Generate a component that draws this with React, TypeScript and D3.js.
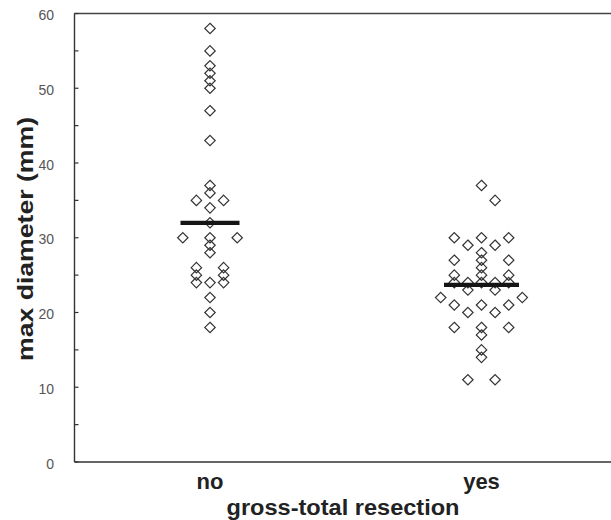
import React from "react";
import * as d3 from "d3";

const categories = ["no", "yes"];

// group "no": values and jitter slot (column index)
const noValues = [58, 55, 53, 52, 51, 50, 47, 43, 37, 36, 35, 35, 34, 32, 30, 30, 30, 29, 28, 26, 25, 24, 26, 25, 24, 24, 22, 20, 18];
const noSlots = [0, 0, 0, 0, 0, 0, 0, 0, 0, 0, -1, 1, 0, 0, -2, 0, 2, 0, 0, -1, -1, -1, 1, 1, 1, 0, 0, 0, 0];

// group "yes"
const yesValues = [37, 35, 30, 30, 30, 29, 29, 28, 27, 26, 25, 24, 27, 27, 25, 25, 24, 24, 24, 24, 23, 23, 22, 22, 21, 21, 21, 20, 20, 18, 18, 18, 17, 15, 14, 11, 11];
const yesSlots = [0, 1, -2, 0, 2, -1, 1, 0, 0, 0, 0, 0, -2, 2, -2, 2, -2, 2, -1, 1, -1, 1, -3, 3, -2, 0, 2, -1, 1, -2, 2, 0, 0, 0, 0, -1, 1];

const centerLines = [32, 23.7];
const yTicks = [0, 10, 20, 30, 40, 50, 60];
const tickSteps = [0, 5, 10, 15, 20, 25, 30, 35, 40, 45, 50, 55, 60];

const FONT = "'Liberation Sans', Arial, Helvetica, sans-serif";

export default function App() {
  const W = 611;
  const H = 520;
  const left = 74.5;
  const right = 611;
  const y = d3.scaleLinear().domain([0, 60]).range([462, 13.5]);
  const x = d3.scalePoint<string>().domain(categories).range([210, 481.5]);
  const slotW = 13.6;
  const r = 5.2;
  const barWidths = [59, 75];

  const diamond = (cx: number, cy: number) =>
    `M${cx},${cy - r}L${cx + r},${cy}L${cx},${cy + r}L${cx - r},${cy}Z`;

  const groups = [
    { cat: "no", values: noValues, slots: noSlots },
    { cat: "yes", values: yesValues, slots: yesSlots },
  ];

  return (
    <svg
      width={W}
      height={H}
      style={{ position: "absolute", left: 0, top: 0, background: "#fff" }}
      fontFamily={FONT}
    >
      <rect x={0} y={0} width={W} height={H} fill="#fff" />
      <line x1={left} x2={right} y1={y(60)} y2={y(60)} stroke="#444" strokeWidth={1.6} />
      <line x1={left} x2={right} y1={y(0)} y2={y(0)} stroke="#333" strokeWidth={1.4} />
      <line x1={left} x2={left} y1={y(60)} y2={y(0)} stroke="#333" strokeWidth={1.4} />
      {tickSteps.map((t) => (
        <line key={t} x1={left} x2={left + 4} y1={y(t)} y2={y(t)} stroke="#333" strokeWidth={1.2} />
      ))}
      {yTicks.map((t) => (
        <text
          key={t}
          x={54}
          y={y(t) + 1.5}
          textAnchor="end"
          dominantBaseline="central"
          fontSize={14}
          fill="#555"
        >
          {t}
        </text>
      ))}
      <text
        transform={`translate(33,239) rotate(-90)`}
        textAnchor="middle"
        fontSize={22}
        fontWeight="bold"
        fill="#222"
        textLength={244}
        lengthAdjust="spacingAndGlyphs"
      >
        max diameter (mm)
      </text>
      {categories.map((c) => (
        <text key={c} x={x(c)} y={489} textAnchor="middle" fontSize={22} fontWeight="bold" fill="#222">
          {c}
        </text>
      ))}
      <text
        x={343}
        y={515}
        textAnchor="middle"
        fontSize={22}
        fontWeight="bold"
        fill="#222"
        textLength={233}
        lengthAdjust="spacingAndGlyphs"
      >
        gross-total resection
      </text>
      {groups.map((g) =>
        g.values.map((v, i) => (
          <path
            key={g.cat + i}
            d={diamond((x(g.cat) as number) + g.slots[i] * slotW, y(v))}
            fill="none"
            stroke="#333"
            strokeWidth={1.2}
          />
        ))
      )}
      {categories.map((c, i) => (
        <line
          key={"bar" + c}
          x1={(x(c) as number) - barWidths[i] / 2}
          x2={(x(c) as number) + barWidths[i] / 2}
          y1={y(centerLines[i])}
          y2={y(centerLines[i])}
          stroke="#151515"
          strokeWidth={4.3}
        />
      ))}
    </svg>
  );
}
